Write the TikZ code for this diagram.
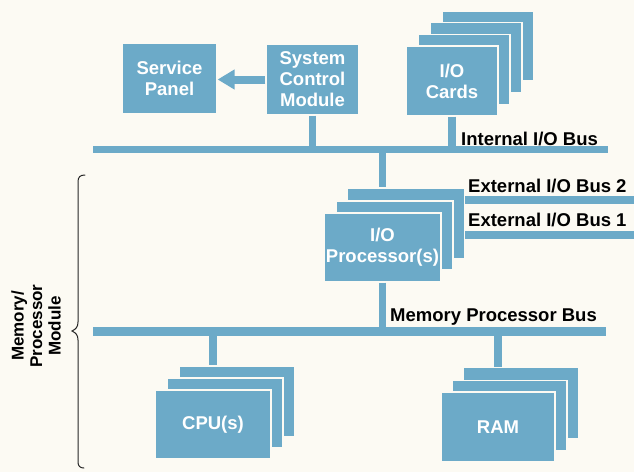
\documentclass[tikz,border=0pt]{standalone}
\usepackage{fontspec}
\setmainfont{Liberation Sans}
\usetikzlibrary{arrows.meta}
\definecolor{busblue}{RGB}{108,170,200}
\definecolor{paper}{RGB}{252,250,243}
\begin{document}
\begin{tikzpicture}[x=1pt,y=-1pt,
  box/.style={fill=busblue,draw=paper,line width=1.2pt,inner sep=0pt,
    text=white,font=\fontsize{18.5}{21}\selectfont\bfseries,align=center},
  busline/.style={busblue,line width=#1},
  busline/.default=7.5pt,
  stem/.style={busblue,line width=7.5pt},
  buslabel/.style={anchor=base west,inner sep=0pt,font=\fontsize{18.5}{21}\selectfont\bfseries,text=black}]
\useasboundingbox (0,0) rectangle (634,472);
\fill[paper] (0,0) rectangle (634,472);

% --- top row ---
\node[box,minimum width=95pt,minimum height=71pt] (sp) at (169.5,78.5) {Service\\Panel};
\node[box,minimum width=93pt,minimum height=71pt] (scm) at (312.5,79.5) {System\\Control\\Module};
\draw[busline=8pt,-{Triangle[length=17pt,width=19pt]}] (scm.west) -- (scm.west -| sp.east);

% stacked I/O cards
\foreach \i/\dx/\dy in {4/36/-35,3/24/-23.3,2/12/-11.7}
  \node[box,minimum width=92pt,minimum height=70pt] (ioc\i) at (452+\dx,81+\dy) {};
\node[box,minimum width=92pt,minimum height=70pt] (ioc1) at (452,81) {I/O\\Cards};

% internal I/O bus
\coordinate (ibusL) at (93,149.5);
\coordinate (ibusR) at (608,149.5);
\draw[busline] (ibusL) -- (ibusR);
\draw[stem] (scm.south) -- (scm.south |- ibusL);
\draw[stem] (ioc1.south) -- (ioc1.south |- ibusL);
\node[buslabel] (ibuslab) at (461,145) {Internal I/O Bus};

% --- I/O processors ---
\node[box,minimum width=117pt,minimum height=71pt] (iop3) at (406,223.5) {};
\node[box,minimum width=117pt,minimum height=69pt] (iop2) at (394.5,235.5) {};
\node[box,minimum width=117pt,minimum height=69pt] (iop1) at (382.5,247.5) {I/O\\Processor(s)};
\draw[stem] (iop1.center |- ibusL) -- (iop1.center |- iop3.north);

% external buses
\coordinate (ext2R) at (640,200);
\coordinate (ext1R) at (640,235);
\draw[busline=8pt] (iop3.east |- ext2R) -- (ext2R);
\draw[busline=8pt] (iop3.east |- ext1R) -- (ext1R);
\node[buslabel] (ext2lab) at (468,192) {External I/O Bus 2};
\node[buslabel] (ext1lab) at (468,226.5) {External I/O Bus 1};

% memory processor bus
\coordinate (mbusL) at (93,331.5);
\coordinate (mbusR) at (606,331.5);
\draw[busline=8.5pt] (mbusL) -- (mbusR);
\draw[stem] (iop1.south) -- (iop1.south |- mbusL);
\node[buslabel] (mbuslab) at (390,321) {Memory Processor Bus};

% --- CPUs ---
\node[box,minimum width=116pt,minimum height=71pt] (cpu3) at (237,401.5) {};
\node[box,minimum width=116pt,minimum height=70pt] (cpu2) at (225,413) {};
\node[box,minimum width=116pt,minimum height=69pt] (cpu1) at (213,424.5) {CPU(s)};
\draw[stem] (cpu1.center |- mbusL) -- (cpu1.center |- cpu3.north);

% --- RAM ---
\node[box,minimum width=115pt,minimum height=71pt] (ram3) at (521,403) {};
\node[box,minimum width=115pt,minimum height=70pt] (ram2) at (509.5,415.5) {};
\node[box,minimum width=114pt,minimum height=70pt] (ram1) at (498,427) {RAM};
\draw[stem] (ram1.center |- mbusL) -- (ram1.center |- ram3.north);

% --- module brace and label ---
\draw[black!85,line width=1pt,line cap=round]
  (85,175) .. controls (80,175) and (78,177) .. (78,182)
  -- (78,322) .. controls (78,327) and (76,329) .. (72,331)
  .. controls (76,333) and (78,335) .. (78,340)
  -- (78,462) .. controls (78,466) and (80,468) .. (84,468);
\node[rotate=90,align=center,inner sep=0pt,
  font=\fontsize{17}{18.5}\selectfont\bfseries] (mpm) at (36,326) {Memory/\\Processor\\Module};
\end{tikzpicture}
\end{document}
